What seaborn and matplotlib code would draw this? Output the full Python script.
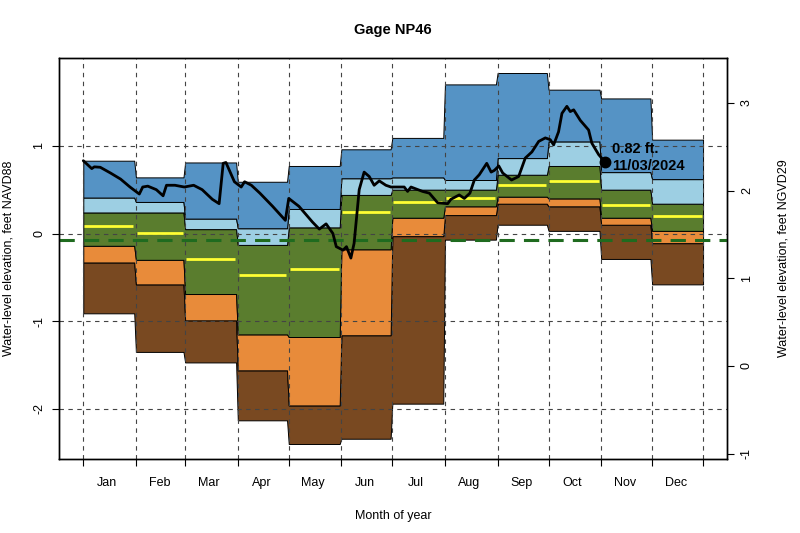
import numpy as np
import pandas as pd
import matplotlib
matplotlib.use("Agg")
import matplotlib.pyplot as plt
import seaborn as sns

# ---------------- data ----------------
months = ["Jan", "Feb", "Mar", "Apr", "May", "Jun",
          "Jul", "Aug", "Sep", "Oct", "Nov", "Dec"]
month_start = [1, 32, 61, 92, 122, 153, 183, 214, 245, 275, 306, 336]
year_end = 366

p_min = [-0.91, -1.35, -1.47, -2.13, -2.40, -2.34, -1.94, -0.07, 0.10, 0.03, -0.29, -0.58]
p10 = [-0.33, -0.58, -0.99, -1.56, -1.96, -1.16, -0.03, 0.21, 0.34, 0.31, 0.10, -0.11]
p25 = [-0.14, -0.30, -0.69, -1.15, -1.18, -0.18, 0.18, 0.31, 0.42, 0.40, 0.18, 0.03]
p50 = [0.09, 0.01, -0.29, -0.47, -0.40, 0.24, 0.36, 0.41, 0.55, 0.60, 0.33, 0.20]
p75 = [0.24, 0.24, 0.05, -0.13, 0.07, 0.44, 0.50, 0.50, 0.67, 0.77, 0.50, 0.34]
p90 = [0.41, 0.36, 0.17, 0.06, 0.28, 0.63, 0.64, 0.61, 0.86, 1.05, 0.70, 0.62]
p_max = [0.83, 0.64, 0.81, 0.59, 0.77, 0.96, 1.09, 1.70, 1.83, 1.64, 1.54, 1.07]

# daily water level, 2024 (day of year, feet NAVD88)
wl_doy = [1, 6, 7.5, 11, 17, 23, 28.5, 34, 36, 39, 44, 48, 50, 55, 60.5, 66, 71, 77,
          81, 83.4, 85, 90, 94, 96, 100, 105, 112.5, 120, 122, 128, 136, 140, 144,
          148, 150, 154, 156, 158.6, 160.5, 163.5, 166.4, 169.4, 172.3, 175.3, 179.2,
          182.2, 190, 192, 194, 200.8, 204.8, 209.7, 215.6, 217.5, 222.4, 225.4,
          228.7, 231.3, 234.2, 238.6, 241.2, 243.1, 245.7, 248, 253.2, 257.4, 261.3,
          265.2, 269.2, 273.1, 276, 278, 280.9, 282.9, 285.8, 287.8, 289.8, 293.7,
          298.6, 300.5, 304.5, 308]
wl_val = [0.83, 0.74, 0.76, 0.755, 0.69, 0.62, 0.53, 0.45, 0.53, 0.54, 0.50, 0.43, 0.55,
          0.55, 0.53, 0.55, 0.50, 0.39, 0.34, 0.80, 0.81, 0.59, 0.53, 0.59, 0.55, 0.46,
          0.31, 0.15, 0.40, 0.31, 0.13, 0.05, 0.11, 0.00, -0.15, -0.19, -0.15, -0.28,
          -0.11, 0.50, 0.70, 0.65, 0.55, 0.60, 0.55, 0.53, 0.53, 0.48, 0.53, 0.48, 0.46,
          0.35, 0.34, 0.39, 0.44, 0.40, 0.46, 0.61, 0.67, 0.80, 0.70, 0.72, 0.77, 0.69,
          0.61, 0.65, 0.86, 0.93, 1.05, 1.09, 1.07, 1.01, 1.16, 1.37, 1.45, 1.39, 1.41,
          1.29, 1.18, 1.03, 0.90, 0.82]

last_label = "0.82 ft."
last_date = "11/03/2024"
datum_line = -0.07      # dashed green reference level
ngvd_offset = 1.51      # NGVD29 = NAVD88 + offset

# ---------------- style ----------------
sns.set_theme(style="white")
plt.rcParams["font.family"] = ["Liberation Sans", "DejaVu Sans"]
plt.rcParams["text.color"] = "black"
plt.rcParams["axes.labelcolor"] = "black"
plt.rcParams["xtick.color"] = "black"
plt.rcParams["ytick.color"] = "black"

c_max = "#5593c5"
c_90 = "#9dcfe3"
c_75 = "#5a7d2e"
c_25 = "#e88b3a"
c_10 = "#794921"

fig = plt.figure(figsize=(8, 5.33), dpi=100)
ax = fig.add_axes([59 / 800, 1 - 459 / 533, 668 / 800, 401 / 533])

# x coordinates of each month's plateau
ends = month_start[1:]
ends = [e - 1 for e in ends] + [year_end]
xs = []
for s, e in zip(month_start, ends):
    xs += [s, e]
xs = np.array(xs, dtype=float)


def rep(v):
    return np.repeat(np.array(v, dtype=float), 2)


bands = [(p_min, p10, c_10), (p10, p25, c_25), (p25, p75, c_75),
         (p75, p90, c_90), (p90, p_max, c_max)]
for lo, hi, col in bands:
    ax.fill_between(xs, rep(lo), rep(hi), facecolor=col, edgecolor="black",
                    linewidth=0.7, zorder=1)

# grid
boundaries = month_start + [year_end]
for b in boundaries:
    ax.axvline(b, color="#444444", lw=0.8, ls=(0, (4, 4)), zorder=2)
for yv in [-2, -1, 0, 1]:
    ax.axhline(yv, color="#444444", lw=0.8, ls=(0, (4, 4)), zorder=2)

# medians
for s, e, m in zip(month_start, ends, p50):
    ax.plot([s + 0.5, e - 0.5], [m, m], color="#ffff33", lw=2.0, zorder=3,
            solid_capstyle="butt")

ax.axhline(datum_line, color="#1f6b1f", lw=2.2, ls=(0, (5, 3)), zorder=3)

df = pd.DataFrame({"doy": wl_doy, "level": wl_val})
sns.lineplot(data=df, x="doy", y="level", color="black", lw=2.0, ax=ax,
             estimator=None, sort=False, zorder=4)
ax.plot([wl_doy[-1]], [wl_val[-1]], "o", color="black", ms=7.5, zorder=5)
ax.text(wl_doy[-1] + 4.5, wl_val[-1] + 0.145, last_label, fontsize=10.5,
        fontweight="bold", ha="left", va="center", color="black", zorder=6)
ax.text(wl_doy[-1] + 4.5, wl_val[-1] - 0.055, last_date, fontsize=10.5,
        fontweight="bold", ha="left", va="center", color="black", zorder=6)

ax.set_xlim(-13.3, 380.1)
ax.set_ylim(-2.571, 2.001)

# x ticks: marks at month boundaries, labels near the 15th of each month
ax.set_xticks(boundaries)
ax.set_xticklabels([""] * len(boundaries))
mids = [s + 14 for s in month_start]
ax.set_xticks(mids, minor=True)
ax.set_xticklabels(months, minor=True)
ax.tick_params(axis="x", which="major", length=5, width=0.8, direction="out",
               color="black", bottom=True)
ax.tick_params(axis="x", which="minor", length=0, pad=13, labelsize=9)

ax.set_yticks([-2, -1, 0, 1])
ax.set_yticklabels(["-2", "-1", "0", "1"], rotation=90, va="center")
ax.tick_params(axis="y", length=5, width=0.8, direction="out", labelsize=9,
               left=True, pad=5, color="black")

for sp in ax.spines.values():
    sp.set_color("black")
    sp.set_linewidth(1.0)
    sp.set_visible(True)

ax.set_xlabel("Month of year", fontsize=9)
ax.set_ylabel("Water-level elevation, feet NAVD88", fontsize=9)
ax.xaxis.set_label_coords(0.5, (459 - 510) / 401)
ax.yaxis.set_label_coords((15 - 59) / 668, 0.5)

ax2 = ax.twinx()
ax2.set_ylim(-2.571 + ngvd_offset, 2.001 + ngvd_offset)
ax2.set_yticks([-1, 0, 1, 2, 3])
ax2.set_yticklabels(["-1", "0", "1", "2", "3"], rotation=90, va="center")
ax2.tick_params(axis="y", length=5, width=0.8, direction="out", labelsize=9,
                right=True, pad=5, color="black")
ax2.set_ylabel("Water-level elevation, feet NGVD29", fontsize=9)
ax2.yaxis.set_label_coords((777 - 59) / 668, 0.5)
ax2.grid(False)
for sp in ax2.spines.values():
    sp.set_color("black")
    sp.set_linewidth(1.0)

fig.text(393 / 800, 1 - 30 / 533, "Gage NP46", fontsize=10.5, fontweight="bold",
         ha="center", va="center")

fig.savefig("out.png", dpi=100)
